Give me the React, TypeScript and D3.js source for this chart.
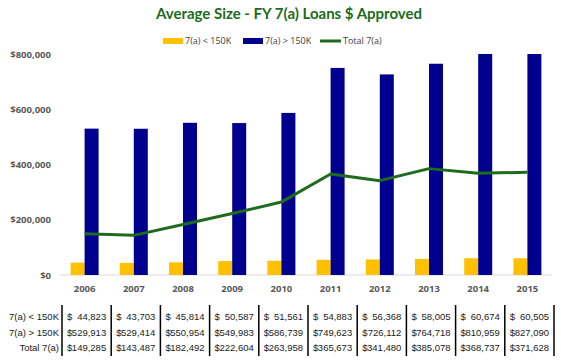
import * as d3 from "d3";

const years = ["2006", "2007", "2008", "2009", "2010", "2011", "2012", "2013", "2014", "2015"];
const small = [44823, 43703, 45814, 50587, 51561, 54883, 56368, 58005, 60674, 60505];
const large = [529913, 529414, 550954, 549983, 586739, 749623, 726112, 764718, 810959, 827090];
const total = [149285, 143487, 182492, 222604, 263958, 365673, 341480, 385078, 368737, 371628];
const yTicks = [0, 200000, 400000, 600000, 800000];
const rowLabels = ["7(a) < 150K", "7(a) > 150K", "Total 7(a)"];

const W = 561;
const H = 364;
const YELLOW = "#FFC000";
const BLUE = "#00008F";
const GREEN = "#1E6B1E";

export default function App() {
  const x = d3.scaleBand().domain(years).range([60, 552]);
  // axis tops out at 800k, so the last bars get cut off like in the original
  const y = d3.scaleLinear().domain([0, 800000]).range([275, 54]).clamp(true);
  const barW = 14;
  const money = d3.format(",");
  const line = d3
    .line<number>()
    .x((_, i) => x(years[i])! + x.bandwidth() / 2)
    .y((d) => y(d));

  const rows = [small, large, total];
  const rowY = [316, 332, 347];

  return (
    <svg width={W} height={H} style={{ position: "absolute", left: 0, top: 0, background: "#fff" }}
      fontFamily="'Liberation Sans', Arial, sans-serif">
      <text x={289} y={19} textAnchor="middle" fontFamily="Lato, 'Open Sans', sans-serif"
        fontWeight="bold" fontSize={15} fill={GREEN}>
        Average Size - FY 7(a) Loans $ Approved
      </text>

      {/* legend */}
      <g fontSize={9} fill="#404040" fontFamily="'Open Sans', sans-serif">
        <rect x={163} y={38} width={20} height={6} fill={YELLOW} />
        <text x={185} y={44}>7(a) &lt; 150K</text>
        <rect x={243} y={38} width={20} height={6} fill={BLUE} />
        <text x={265} y={44}>7(a) &gt; 150K</text>
        <line x1={320} x2={341} y1={41} y2={41} stroke={GREEN} strokeWidth={3} />
        <text x={343} y={44}>Total 7(a)</text>
      </g>

      {/* y axis */}
      <g fontSize={9.5} fill="#595959" fontWeight="bold" fontFamily="'Open Sans', sans-serif">
        {yTicks.map((t) => (
          <text key={t} x={51} y={y(t) + 3.5} textAnchor="end">
            ${money(t)}
          </text>
        ))}
      </g>
      <line x1={60} x2={552} y1={y(0)} y2={y(0)} stroke="#d9d9d9" />

      {/* bars */}
      {years.map((yr, i) => {
        const cx = x(yr)! + x.bandwidth() / 2;
        return (
          <g key={yr}>
            <rect x={cx - barW} y={y(small[i])} width={barW} height={y(0) - y(small[i])} fill={YELLOW} />
            <rect x={cx} y={y(large[i])} width={barW} height={y(0) - y(large[i])} fill={BLUE} />
            <text x={cx} y={292} textAnchor="middle" fontSize={9.5} fontWeight="bold" fill="#595959"
              fontFamily="'Open Sans', sans-serif">
              {yr}
            </text>
          </g>
        );
      })}

      <path d={line(total)!} fill="none" stroke={GREEN} strokeWidth={3} strokeLinejoin="round" />

      {/* data table */}
      <g fontSize={9.5} fill="#222">
        {rowLabels.map((lab, r) => (
          <text key={lab} x={59} y={rowY[r] + 3.5} textAnchor="end">{lab}</text>
        ))}
        {[...years.map((yr) => x(yr)!), 552].map((bx, i) => (
          <line key={i} x1={bx + 2} x2={bx + 2} y1={305} y2={356} stroke="#000" strokeWidth={1.5} />
        ))}
        {rows.map((vals, r) =>
          years.map((yr, i) => {
            const bx = x(yr)!;
            return (
              <g key={yr + r}>
                <text x={bx + 7} y={rowY[r] + 3.5}>$</text>
                <text x={bx + x.bandwidth() - 3} y={rowY[r] + 3.5} textAnchor="end">
                  {money(vals[i])}
                </text>
              </g>
            );
          })
        )}
      </g>
    </svg>
  );
}
